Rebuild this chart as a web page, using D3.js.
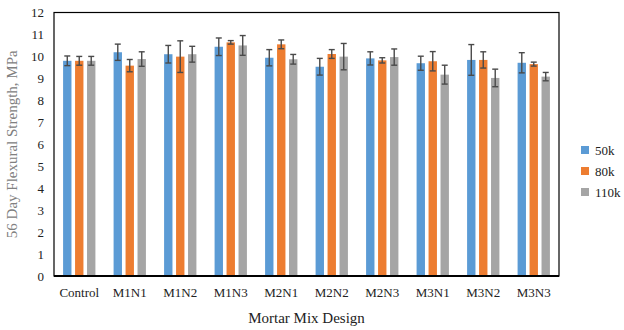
<!DOCTYPE html>
<html><head><meta charset="utf-8">
<script src="https://cdn.jsdelivr.net/npm/d3@7"></script>
<style>body{margin:0;background:#fff}svg{display:block}</style>
</head><body><svg id="c" width="624" height="330" font-family="'Liberation Serif', 'Times New Roman', serif"></svg>
<script>
const categories = ["Control","M1N1","M1N2","M1N3","M2N1","M2N2","M2N3","M3N1","M3N2","M3N3"];
const seriesNames = ["50k","80k","110k"];
const seriesColors = ["#5b9bd5","#ed7d31","#a5a5a5"];
const values50k  = [9.8,10.19,10.1,10.44,9.94,9.53,9.91,9.69,9.84,9.71];
const values80k  = [9.8,9.58,9.99,10.64,10.55,10.11,9.82,9.78,9.84,9.65];
const values110k = [9.8,9.88,10.1,10.5,9.87,9.99,9.97,9.17,9.02,9.08];
const err50k  = [0.22,0.37,0.4,0.4,0.37,0.38,0.3,0.32,0.7,0.46];
const err80k  = [0.2,0.28,0.72,0.08,0.2,0.2,0.12,0.44,0.37,0.09];
const err110k = [0.2,0.33,0.36,0.45,0.22,0.6,0.37,0.43,0.4,0.19];
const yTicks = [0,1,2,3,4,5,6,7,8,9,10,11,12];

const FONT = "'Liberation Serif', 'Times New Roman', serif";
const vals = [values50k, values80k, values110k];
const errs = [err50k, err80k, err110k];
const svg = d3.select("#c");
const L = 54, R = 559, T = 12.5, B = 276;
const x = d3.scaleBand().domain(categories).range([L, R]).paddingInner(0.36).paddingOuter(0.18);
const xs = d3.scaleBand().domain(seriesNames).range([0, x.bandwidth()]).paddingInner(0.3);
const y = d3.scaleLinear().domain([0, 12]).range([B, T]);

// bars
seriesNames.forEach((s, si) => {
  svg.append("g").selectAll("rect").data(categories).join("rect")
    .attr("x", d => x(d) + xs(s))
    .attr("y", (d, i) => y(vals[si][i]))
    .attr("width", xs.bandwidth())
    .attr("height", (d, i) => y(0) - y(vals[si][i]))
    .attr("fill", seriesColors[si]);
});
// error bars
seriesNames.forEach((s, si) => {
  const g = svg.append("g").attr("stroke", "#4a4a4a").attr("stroke-width", 1.4);
  categories.forEach((c, i) => {
    const cx = x(c) + xs(s) + xs.bandwidth() / 2;
    const hi = y(vals[si][i] + errs[si][i]), lo = y(vals[si][i] - errs[si][i]);
    g.append("line").attr("x1", cx).attr("x2", cx).attr("y1", hi).attr("y2", lo);
    g.append("line").attr("x1", cx - 3).attr("x2", cx + 3).attr("y1", hi).attr("y2", hi);
    g.append("line").attr("x1", cx - 3).attr("x2", cx + 3).attr("y1", lo).attr("y2", lo);
  });
});
// frame
svg.append("rect").attr("x", L).attr("y", T).attr("width", R - L).attr("height", B - T)
  .attr("fill", "none").attr("stroke", "#000").attr("stroke-width", 1.2);
svg.append("line").attr("x1", L).attr("x2", R).attr("y1", B).attr("y2", B).attr("stroke", "#000").attr("stroke-width", 2);

// y axis
const ya = svg.append("g").attr("transform", `translate(${L},0)`)
  .call(d3.axisLeft(y).tickValues(yTicks).tickSize(0).tickPadding(10).tickFormat(d3.format("d")));
ya.attr("font-family", FONT).attr("font-size", 13);
ya.select(".domain").remove();
ya.selectAll("text").attr("fill", "#222");

// x axis
const xa = svg.append("g").attr("transform", `translate(0,${B})`)
  .call(d3.axisBottom(x).tickSize(0).tickPadding(12));
xa.attr("font-family", FONT).attr("font-size", 13);
xa.select(".domain").remove();
xa.selectAll("text").attr("fill", "#222");

// titles
svg.append("text").attr("x", (L + R) / 2).attr("y", 323).attr("text-anchor", "middle")
  .attr("font-family", FONT).attr("font-size", 15).attr("fill", "#222").text("Mortar Mix Design");
svg.append("text").attr("transform", `translate(17,${(T + B) / 2}) rotate(-90)`).attr("text-anchor", "middle")
  .attr("font-family", FONT).attr("font-size", 15).attr("fill", "#808080").text("56 Day Flexural Strength, MPa");

// legend
const lg = svg.append("g").attr("font-family", FONT);
seriesNames.forEach((s, i) => {
  const yy = 150 + i * 21;
  lg.append("rect").attr("x", 581).attr("y", yy - 4).attr("width", 8).attr("height", 8).attr("fill", seriesColors[i]);
  lg.append("text").attr("x", 595).attr("y", yy).attr("dy", "0.35em").attr("font-size", 13).attr("fill", "#222").text(s);
});
</script></body></html>
